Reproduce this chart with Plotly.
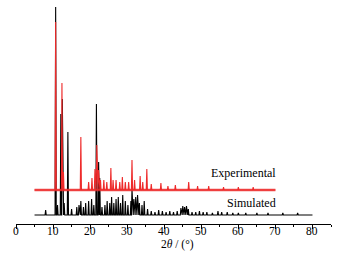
import plotly.graph_objects as go

# Peak lists (position in 2theta degrees, height in plot units)
sim_pos = [8.0, 10.7, 11.2, 12.1, 12.5, 13.0, 14.0, 15.0, 16.4, 17.0, 17.5, 18.2, 18.8, 19.6, 20.4, 21.0,
           21.7, 22.3, 22.6, 23.2, 24.0, 24.6, 25.3, 25.8, 26.4, 27.0, 27.6, 28.2, 28.8, 29.5, 30.2,
           31.0, 31.3, 31.8, 32.3, 32.8, 33.3, 34.0, 34.6, 35.5, 36.5, 37.5, 38.5, 39.5, 40.5, 41.5,
           42.5, 43.5, 44.5, 45.0, 45.5, 46.0, 46.5, 47.5, 48.5, 49.5, 50.5, 51.5, 53.0, 54.5, 55.5,
           57.0, 58.5, 60.0, 62.0, 65.0, 68.0, 72.0, 76.0]
sim_h = [5, 208, 10, 101, 116, 12, 83, 6, 8, 10, 14, 8, 12, 14, 16, 10,
         111, 53, 37, 8, 10, 14, 12, 18, 12, 16, 18, 12, 20, 14, 10,
         14, 26, 16, 18, 20, 12, 10, 14, 6, 4, 3, 5, 4, 3, 4,
         3, 4, 7, 9, 8, 9, 6, 3, 3, 4, 3, 3, 2, 4, 3,
         3, 2, 2, 2, 2, 2, 2, 2]
sim_range = [5.0, 80.0]
sim_base = 9

exp_pos = [10.7, 12.4, 12.8, 17.5, 19.6, 20.5, 21.3, 21.8, 22.3, 22.8, 23.7, 24.5, 25.6, 26.2, 27.0,
           28.0, 28.7, 29.5, 30.4, 31.3, 32.0, 33.5, 34.2, 35.3, 36.5, 39.1, 41.0, 43.0, 46.6, 49.0,
           52.0, 56.0, 60.0, 64.0]
exp_h = [168, 107, 18, 53, 8, 12, 21, 45, 20, 10, 10, 8, 22, 10, 10,
         8, 13, 8, 8, 30, 10, 14, 8, 21, 6, 7, 4, 5, 8, 4,
         4, 3, 3, 3]
exp_range = [5.0, 70.0]
exp_base = 34

labels = ["Experimental", "Simulated"]
x_ticks = [0, 10, 20, 30, 40, 50, 60, 70, 80]


def stick_profile(pos, h, rng, base, w=0.16):
    xs, ys = [rng[0]], [base]
    for p, hh in sorted(zip(pos, h)):
        xs += [p - w, p, p + w]
        ys += [base, base + hh, base]
    xs.append(rng[1])
    ys.append(base)
    return xs, ys


fig = go.Figure()

sx, sy = stick_profile(sim_pos, sim_h, sim_range, sim_base)
fig.add_trace(go.Scatter(x=sx, y=sy, mode="lines", line=dict(color="black", width=1.1), showlegend=False))

ex, ey = stick_profile(exp_pos, exp_h, exp_range, exp_base)
red = "#ee2a2a"
fig.add_trace(go.Scatter(x=exp_range, y=[exp_base, exp_base], mode="lines",
                         line=dict(color=red, width=2.6), opacity=0.8, showlegend=False, hoverinfo="skip"))
fig.add_trace(go.Scatter(x=ex, y=ey, mode="lines", line=dict(color=red, width=1.1), showlegend=False))

serif = "Liberation Serif, Times New Roman, serif"
fig.add_annotation(x=61.4, y=51, text=labels[0], showarrow=False, xanchor="center", yanchor="middle",
                   font=dict(family=serif, size=12, color="black"))
fig.add_annotation(x=63.6, y=21, text=labels[1], showarrow=False, xanchor="center", yanchor="middle",
                   font=dict(family=serif, size=12, color="black"))
# tick labels drawn as annotations just under the axis
for v in x_ticks:
    fig.add_annotation(x=v, y=-0.03, yref="paper", text=str(v), showarrow=False, borderpad=0,
                       xanchor="center", yanchor="middle", font=dict(family=serif, size=11.5, color="black"))
fig.add_annotation(x=43.7, y=-0.09, yref="paper", text="2<i>θ</i> / (°)", showarrow=False, borderpad=0,
                   xanchor="center", yanchor="middle", font=dict(family=serif, size=11.5, color="black"))

fig.update_layout(
    width=339, height=264,
    margin=dict(l=16, r=8, t=0, b=40, autoexpand=False),
    paper_bgcolor="white", plot_bgcolor="white",
    xaxis=dict(range=[0, 85], tickvals=x_ticks, showticklabels=False, automargin=False,
               showline=True, linecolor="black", linewidth=1, ticks="outside", ticklen=4,
               tickcolor="black", tickwidth=1, showgrid=False, zeroline=False,
               minor=dict(tickvals=[5, 15, 25, 35, 45, 55, 65, 75, 85], ticks="outside", ticklen=2,
                          tickcolor="black", showgrid=False)),
    yaxis=dict(range=[0, 224], visible=False, fixedrange=True, automargin=False),
)

fig.write_html("out.html", config={"displayModeBar": False},
               post_script="document.body.style.margin='0';document.body.style.overflow='hidden';")
